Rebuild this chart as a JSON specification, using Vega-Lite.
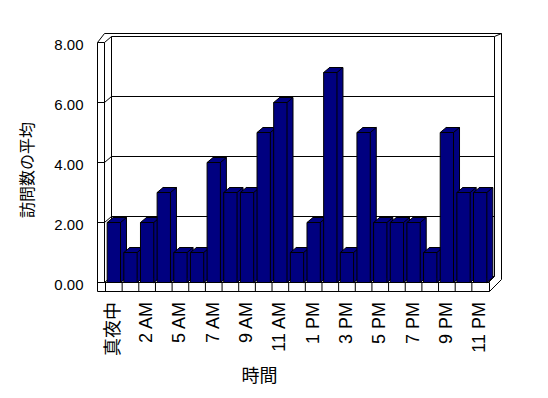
{
  "$schema": "https://vega.github.io/schema/vega-lite/v6.json",
  "width": 383,
  "height": 240,
  "autosize": {"type": "none"},
  "padding": {"left": 105.5, "top": 42.5, "right": 59.5, "bottom": 115.5},
  "background": "white",
  "config": {
    "view": {"stroke": null},
    "axis": {
      "labelFont": "Liberation Sans, Noto Sans CJK JP",
      "titleFont": "Noto Sans CJK JP",
      "labelColor": "#000000",
      "titleColor": "#000000",
      "titleFontWeight": "normal",
      "grid": false,
      "domain": false,
      "ticks": false,
      "tickSize": 0
    },
    "axisX": {
      "labelAngle": -90,
      "labelFontSize": 18,
      "labelPadding": 19,
      "titleFontSize": 18,
      "titleX": 153.5,
      "titleY": 93.5,
      "titleBaseline": "middle",
      "titleAlign": "center"
    },
    "axisY": {
      "offset": 8,
      "labelFontSize": 15,
      "labelPadding": 14.5,
      "labelOffset": 1.5,
      "titleFontSize": 16,
      "titleX": -70.5,
      "titleY": 127,
      "titleAngle": -90,
      "titleBaseline": "middle",
      "titleAlign": "center"
    }
  },
  "datasets": {
    "main": [
      {"hour": "真夜中", "visits": 2},
      {"hour": "1 AM", "visits": 1},
      {"hour": "2 AM", "visits": 2},
      {"hour": "4 AM", "visits": 3},
      {"hour": "5 AM", "visits": 1},
      {"hour": "6 AM", "visits": 1},
      {"hour": "7 AM", "visits": 4},
      {"hour": "8 AM", "visits": 3},
      {"hour": "9 AM", "visits": 3},
      {"hour": "10 AM", "visits": 5},
      {"hour": "11 AM", "visits": 6},
      {"hour": "正午", "visits": 1},
      {"hour": "1 PM", "visits": 2},
      {"hour": "2 PM", "visits": 7},
      {"hour": "3 PM", "visits": 1},
      {"hour": "4 PM", "visits": 5},
      {"hour": "5 PM", "visits": 2},
      {"hour": "6 PM", "visits": 2},
      {"hour": "7 PM", "visits": 2},
      {"hour": "8 PM", "visits": 1},
      {"hour": "9 PM", "visits": 5},
      {"hour": "10 PM", "visits": 3},
      {"hour": "11 PM", "visits": 3}
    ],
    "grid": [{"g": 0}, {"g": 2}, {"g": 4}, {"g": 6}, {"g": 8}],
    "one": [{}]
  },
  "layer": [
    {
      "data": {"name": "main"},
      "mark": {"type": "bar", "fill": "#000080", "stroke": "black", "strokeWidth": 1, "width": {"band": 0.8}, "opacity": 0},
      "encoding": {
        "x": {
          "field": "hour", "type": "nominal", "sort": null, "title": "時間",
          "scale": {"domain": ["真夜中","1 AM","2 AM","4 AM","5 AM","6 AM","7 AM","8 AM","9 AM","10 AM","11 AM","正午","1 PM","2 PM","3 PM","4 PM","5 PM","6 PM","7 PM","8 PM","9 PM","10 PM","11 PM"], "paddingInner": 0, "paddingOuter": 0},
          "axis": {
            "title": "時間",
            "values": ["真夜中","2 AM","5 AM","7 AM","9 AM","11 AM","1 PM","3 PM","5 PM","7 PM","9 PM","11 PM"]
          }
        },
        "y": {
          "field": "visits", "type": "quantitative", "title": "訪問数の平均",
          "scale": {"domain": [0, 8], "nice": false},
          "axis": {
            "title": "訪問数の平均",
            "values": [0, 2, 4, 6, 8],
            "format": ".2f"
          }
        }
      }
    },
    {
      "data": {"name": "grid"},
      "mark": {"type": "rule", "color": "black", "strokeWidth": 1, "xOffset": 6, "x2Offset": 6, "yOffset": -6},
      "encoding": {
        "x": {"datum": "真夜中", "bandPosition": 0, "title": "時間"},
        "x2": {"datum": "11 PM", "bandPosition": 1, "title": "時間"},
        "y": {"field": "g", "type": "quantitative", "title": "訪問数の平均"}
      }
    },
    {
      "data": {"name": "grid"},
      "mark": {"type": "rule", "color": "black", "strokeWidth": 1, "xOffset": -1, "x2Offset": 6, "y2Offset": -6},
      "encoding": {
        "x": {"datum": "真夜中", "bandPosition": 0, "title": "時間"},
        "x2": {"datum": "真夜中", "bandPosition": 0, "title": "時間"},
        "y": {"field": "g", "type": "quantitative", "title": "訪問数の平均"},
        "y2": {"field": "g", "title": "訪問数の平均"}
      }
    },
    {
      "data": {"name": "one"},
      "mark": {"type": "rule", "color": "black", "strokeWidth": 1, "xOffset": 6, "yOffset": -6, "y2Offset": -6},
      "encoding": {
        "x": {"datum": "真夜中", "bandPosition": 0, "title": "時間"},
        "y": {"datum": 8, "title": "訪問数の平均"},
        "y2": {"datum": 0, "title": "訪問数の平均"}
      }
    },
    {
      "data": {"name": "one"},
      "mark": {"type": "rule", "color": "black", "strokeWidth": 1, "xOffset": 6, "yOffset": -6, "y2Offset": -6},
      "encoding": {
        "x": {"datum": "11 PM", "bandPosition": 1, "title": "時間"},
        "y": {"datum": 8, "title": "訪問数の平均"},
        "y2": {"datum": 0, "title": "訪問数の平均"}
      }
    },
    {
      "data": {"name": "one"},
      "mark": {"type": "rule", "color": "black", "strokeWidth": 1, "x2Offset": 6, "y2Offset": -6},
      "encoding": {
        "x": {"datum": "11 PM", "bandPosition": 1, "title": "時間"},
        "x2": {"datum": "11 PM", "bandPosition": 1, "title": "時間"},
        "y": {"datum": 0, "title": "訪問数の平均"},
        "y2": {"datum": 0, "title": "訪問数の平均"}
      }
    },
    {
      "data": {"name": "one"},
      "mark": {"type": "rule", "color": "black", "strokeWidth": 1, "xOffset": -1, "x2Offset": 13, "yOffset": -9},
      "encoding": {
        "x": {"datum": "真夜中", "bandPosition": 0, "title": "時間"},
        "x2": {"datum": "11 PM", "bandPosition": 1, "title": "時間"},
        "y": {"datum": 8, "title": "訪問数の平均"}
      }
    },
    {
      "data": {"name": "one"},
      "mark": {"type": "rule", "color": "black", "strokeWidth": 1, "xOffset": 6, "x2Offset": 13, "yOffset": -6, "y2Offset": -9},
      "encoding": {
        "x": {"datum": "11 PM", "bandPosition": 1, "title": "時間"},
        "x2": {"datum": "11 PM", "bandPosition": 1, "title": "時間"},
        "y": {"datum": 8, "title": "訪問数の平均"},
        "y2": {"datum": 8, "title": "訪問数の平均"}
      }
    },
    {
      "data": {"name": "one"},
      "mark": {"type": "rule", "color": "black", "strokeWidth": 1, "xOffset": 13, "yOffset": -9, "y2Offset": -3},
      "encoding": {
        "x": {"datum": "11 PM", "bandPosition": 1, "title": "時間"},
        "y": {"datum": 8, "title": "訪問数の平均"},
        "y2": {"datum": 0, "title": "訪問数の平均"}
      }
    },
    {
      "data": {"name": "main"},
      "mark": {"type": "bar", "fill": "#000080", "stroke": "black", "strokeWidth": 1, "width": {"band": 0.8}, "xOffset": 6, "x2Offset": 6, "yOffset": -5, "y2Offset": -5},
      "encoding": {
        "x": {"field": "hour", "type": "nominal", "sort": null, "title": "時間"},
        "y": {"field": "visits", "type": "quantitative", "title": "訪問数の平均"}
      }
    },
    {
      "data": {"name": "main"},
      "mark": {"type": "point", "shape": "M1,0L1,-0.7507L1.9008,-0.7507Z", "size": 177.4, "filled": true, "fill": "#000080", "stroke": "#000080", "strokeWidth": 1, "opacity": 1},
      "encoding": {
        "x": {"field": "hour", "type": "nominal", "sort": null, "title": "時間"},
        "y": {"datum": 0, "title": "訪問数の平均"}
      }
    },
    {
      "data": {"name": "main"},
      "mark": {"type": "point", "shape": "M1,0L1.9008,-0.7507", "size": 177.4, "filled": false, "stroke": "black", "strokeWidth": 1, "opacity": 1},
      "encoding": {
        "x": {"field": "hour", "type": "nominal", "sort": null, "title": "時間"},
        "y": {"datum": 0, "title": "訪問数の平均"}
      }
    },
    {
      "data": {"name": "main"},
      "mark": {"type": "point", "shape": "M-1,0L1,0L1.9008,-0.7507L-0.0992,-0.7507Z", "size": 177.4, "filled": true, "fill": "#000080", "stroke": "black", "strokeWidth": 1, "opacity": 1},
      "encoding": {
        "x": {"field": "hour", "type": "nominal", "sort": null, "title": "時間"},
        "y": {"field": "visits", "type": "quantitative", "title": "訪問数の平均"}
      }
    },
    {
      "data": {"name": "main"},
      "mark": {"type": "bar", "fill": "#000080", "stroke": "black", "strokeWidth": 1, "width": {"band": 0.8}},
      "encoding": {
        "x": {"field": "hour", "type": "nominal", "sort": null, "title": "時間"},
        "y": {"field": "visits", "type": "quantitative", "title": "訪問数の平均"}
      }
    },
    {
      "data": {"name": "grid"},
      "mark": {"type": "rule", "color": "black", "strokeWidth": 1, "xOffset": -8, "x2Offset": -1},
      "encoding": {
        "x": {"datum": "真夜中", "bandPosition": 0, "title": "時間"},
        "x2": {"datum": "真夜中", "bandPosition": 0, "title": "時間"},
        "y": {"field": "g", "type": "quantitative", "title": "訪問数の平均"}
      }
    },
    {
      "data": {"name": "one"},
      "mark": {"type": "rule", "color": "black", "strokeWidth": 1, "xOffset": -8, "y2Offset": 9},
      "encoding": {
        "x": {"datum": "真夜中", "bandPosition": 0, "title": "時間"},
        "y": {"datum": 8, "title": "訪問数の平均"},
        "y2": {"datum": 0, "title": "訪問数の平均"}
      }
    },
    {
      "data": {"name": "one"},
      "mark": {"type": "rule", "color": "black", "strokeWidth": 1, "xOffset": -1},
      "encoding": {
        "x": {"datum": "真夜中", "bandPosition": 0, "title": "時間"},
        "y": {"datum": 8, "title": "訪問数の平均"},
        "y2": {"datum": 0, "title": "訪問数の平均"}
      }
    },
    {
      "data": {"name": "one"},
      "mark": {"type": "rule", "color": "black", "strokeWidth": 1, "xOffset": -1, "x2Offset": 1},
      "encoding": {
        "x": {"datum": "真夜中", "bandPosition": 0, "title": "時間"},
        "x2": {"datum": "11 PM", "bandPosition": 1, "title": "時間"},
        "y": {"datum": 0, "title": "訪問数の平均"}
      }
    },
    {
      "data": {"name": "one"},
      "mark": {"type": "rule", "color": "black", "strokeWidth": 1, "xOffset": -8, "x2Offset": 1, "yOffset": 9},
      "encoding": {
        "x": {"datum": "真夜中", "bandPosition": 0, "title": "時間"},
        "x2": {"datum": "11 PM", "bandPosition": 1, "title": "時間"},
        "y": {"datum": 0, "title": "訪問数の平均"}
      }
    },
    {
      "data": {"name": "one"},
      "mark": {"type": "rule", "color": "black", "strokeWidth": 1, "xOffset": 1, "y2Offset": 9},
      "encoding": {
        "x": {"datum": "11 PM", "bandPosition": 1, "title": "時間"},
        "y": {"datum": 0, "title": "訪問数の平均"},
        "y2": {"datum": 0, "title": "訪問数の平均"}
      }
    },
    {
      "data": {"name": "main"},
      "mark": {"type": "rule", "color": "black", "strokeWidth": 1, "y2Offset": 9},
      "encoding": {
        "x": {"field": "hour", "type": "nominal", "sort": null, "bandPosition": 0, "title": "時間"},
        "y": {"datum": 0, "title": "訪問数の平均"},
        "y2": {"datum": 0, "title": "訪問数の平均"}
      }
    },
    {
      "data": {"name": "one"},
      "mark": {"type": "rule", "color": "black", "strokeWidth": 1, "xOffset": -8, "x2Offset": -1, "y2Offset": -9},
      "encoding": {
        "x": {"datum": "真夜中", "bandPosition": 0, "title": "時間"},
        "x2": {"datum": "真夜中", "bandPosition": 0, "title": "時間"},
        "y": {"datum": 8, "title": "訪問数の平均"},
        "y2": {"datum": 8, "title": "訪問数の平均"}
      }
    },
    {
      "data": {"name": "one"},
      "mark": {"type": "rule", "color": "black", "strokeWidth": 1, "xOffset": 1, "x2Offset": 13, "yOffset": 9, "y2Offset": -3},
      "encoding": {
        "x": {"datum": "11 PM", "bandPosition": 1, "title": "時間"},
        "x2": {"datum": "11 PM", "bandPosition": 1, "title": "時間"},
        "y": {"datum": 0, "title": "訪問数の平均"},
        "y2": {"datum": 0, "title": "訪問数の平均"}
      }
    }
  ]
}
